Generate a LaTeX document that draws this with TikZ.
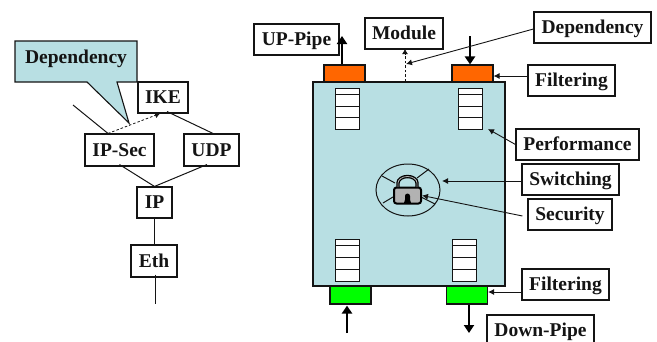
\documentclass[tikz,border=0pt]{standalone}
\usepackage{fontspec}
\setmainfont{Liberation Serif}
\usetikzlibrary{arrows.meta,shapes.geometric}
\definecolor{modteal}{RGB}{184,223,227}
\definecolor{modorange}{RGB}{255,102,0}
\definecolor{modgreen}{RGB}{0,255,0}
\definecolor{lockgrey}{RGB}{178,178,178}
\definecolor{inkblack}{RGB}{20,20,20}
\tikzset{
  x=1pt,y=-1pt,
  lbltext/.style={font=\fontsize{19.5}{19.5}\selectfont\bfseries,text=inkblack,text height=14pt,text depth=2pt,inner sep=0pt},
  lbl/.style={draw=inkblack,line width=1.1pt,fill=white,align=center,lbltext},
  port/.style={draw=inkblack,line width=1.1pt,inner sep=0pt},
  wire/.style={draw=inkblack,line width=1pt},
  note/.style={draw=inkblack,line width=.9pt,-{Latex[length=6pt,width=6pt]}},
  dep/.style={draw=inkblack,line width=.8pt,dashed,dash pattern=on 2.5pt off 2pt,-{Latex[length=5pt,width=6pt]}},
  pipe/.style={draw=black,line width=2.8pt,-{Triangle[length=8pt,width=10pt]}},
  cell/.style={draw=inkblack,line width=1pt,fill=white},
}
\newcommand{\stackcells}[2]{% left x, top y
  \draw[cell] (#1,#2) rectangle ++(24,41.5);
  \draw[cell] (#1,#2+6) -- ++(24,0) (#1,#2+18) -- ++(24,0) (#1,#2+29.5) -- ++(24,0);
}
\begin{document}
\begin{tikzpicture}
\useasboundingbox (0,0) rectangle (657,341);
% --- left stack ---
\node[lbl,minimum width=50pt,minimum height=31pt] (ike) at (163,97.5) {IKE};
\node[lbl,minimum width=69pt,minimum height=32pt] (ipsec) at (119.5,150) {IP-Sec};
\node[lbl,minimum width=55pt,minimum height=32pt] (udp) at (211.5,150) {UDP};
\node[lbl,minimum width=35pt,minimum height=31pt] (ip) at (154.5,202.5) {IP};
\node[lbl,minimum width=46pt,minimum height=32pt] (eth) at (154,261) {Eth};
\coordinate (ipsecup) at (73,105);
\coordinate (ethdown) at (155,304);
\draw[wire] (ipsecup) -- ([xshift=-11.5pt]ipsec.north);
\draw[wire] ([xshift=4pt,yshift=2pt]ike.south) -- ([xshift=1.5pt]udp.north);
\draw[wire] ([yshift=2pt]ipsec.south) -- (ip.north);
\draw[wire] ([xshift=-4.5pt,yshift=2pt]udp.south) -- (ip.north);
\draw[wire] (ip.south) -- (ip.south |- eth.north);
\draw[wire] ([xshift=1pt,yshift=3pt]eth.south) -- (ethdown);
\draw[dep] ([xshift=-11.5pt]ipsec.north) -- ([xshift=-3pt]ike.south);
% callout
\draw[draw=inkblack,line width=1.1pt,fill=modteal]
  (15,41) -- (137,41) -- (137,82) -- (117,82) -- (129,123) -- (87,82) -- (15,82) -- cycle;
\node[lbltext] (depcall) at (76,57.5) {Dependency};
% --- module ---
\node[draw=inkblack,line width=1.1pt,fill=modteal,minimum width=192pt,minimum height=204pt,inner sep=0pt] (module) at (409,184) {};
\node[port,fill=modorange,minimum width=41pt,minimum height=17pt] (upport) at (344.5,73.5) {};
\node[port,fill=modorange,minimum width=41pt,minimum height=17pt] (inport) at (472.5,73.5) {};
\node[port,fill=modgreen,minimum width=41pt,minimum height=18pt] (dnin) at (350.5,295) {};
\node[port,fill=modgreen,minimum width=41pt,minimum height=18pt] (dnout) at (467,295) {};
\stackcells{335}{88}
\stackcells{458}{88}
\stackcells{335}{239.5}
\stackcells{452}{239.5}
% switch and lock
\node[draw=inkblack,line width=1pt,ellipse,minimum width=64pt,minimum height=52pt,inner sep=0pt] (switch) at (408,190) {};
\draw[wire] (382,176) -- (395,183) (429,169) -- (417,178) (383,203) -- (393,197) (435,204) -- (421,197);
\node[draw=black,line width=2pt,fill=lockgrey,rounded corners=2.5pt,minimum width=27pt,minimum height=16pt,inner sep=0pt] (lock) at (407.5,195.5) {};
\draw[black,line width=3.4pt] (398,187) -- (398,183) arc[start angle=180,end angle=0,x radius=9.5pt,y radius=6.5pt] -- (417,187);
\draw[lockgrey,line width=.8pt] (398,187) -- (398,183) arc[start angle=180,end angle=0,x radius=9.5pt,y radius=6.5pt] -- (417,187);
\fill[black] (405,199.5) -- (405,196) arc[start angle=180,end angle=0,x radius=2.5pt,y radius=2.5pt] -- (410,199.5) -- (411,203) -- (404,203) -- cycle;
% --- labels ---
\node[lbl,minimum width=85pt,minimum height=31pt] (uppipe) at (296.5,39.5) {UP-Pipe};
\node[lbl,minimum width=78pt,minimum height=31pt] (modlab) at (404,33.5) {Module};
\node[lbl,minimum width=117pt,minimum height=31pt] (deplab) at (592.5,27.5) {Dependency};
\node[lbl,minimum width=87pt,minimum height=31pt] (filt1) at (571.5,80.5) {Filtering};
\node[lbl,minimum width=123pt,minimum height=31pt] (perf) at (577.5,144.5) {Performance};
\node[lbl,minimum width=97pt,minimum height=31pt] (swit) at (570.5,179.5) {Switching};
\node[lbl,minimum width=84pt,minimum height=31pt] (secu) at (570,214.5) {Security};
\node[lbl,minimum width=87pt,minimum height=31pt] (filt2) at (565.5,284.5) {Filtering};
\node[lbl,minimum width=107pt,minimum height=31pt] (downp) at (540.5,330.5) {Down-Pipe};
% --- free ends ---
\coordinate (uptip) at (342,36);
\coordinate (inbase) at (470,36);
\coordinate (dnbase) at (347,333);
\coordinate (outtip) at (469,333);
\coordinate (depend) at (406,64);
\coordinate (modtip) at (405,49);
\coordinate (perfend) at (488,129);
\coordinate (switend) at (442,181);
% --- connectors ---
\draw[pipe] ([xshift=-2.5pt]upport.north) -- (uptip);
\draw[pipe] (inbase) -- ([xshift=-2.5pt]inport.north);
\draw[pipe] (dnbase) -- ([xshift=-3.5pt,yshift=-1pt]dnin.south);
\draw[pipe] ([xshift=2pt]dnout.south) -- (outtip);
\draw[dep] ([xshift=-4pt]module.north) -- (modtip);
\draw[note] ([yshift=-1.5pt]deplab.west) -- (depend);
\draw[note] ([yshift=4.5pt]filt1.west) -- ([yshift=-2.5pt]inport.east);
\draw[note] (perf.west) -- (perfend);
\draw[note] ([yshift=-1.5pt]swit.west) -- (switend);
\draw[note] ([xshift=-5pt,yshift=-1.5pt]secu.west) -- (lock.east);
\draw[note] ([yshift=-7.5pt]filt2.west) -- ([yshift=3pt]dnout.east);
\end{tikzpicture}
\end{document}
